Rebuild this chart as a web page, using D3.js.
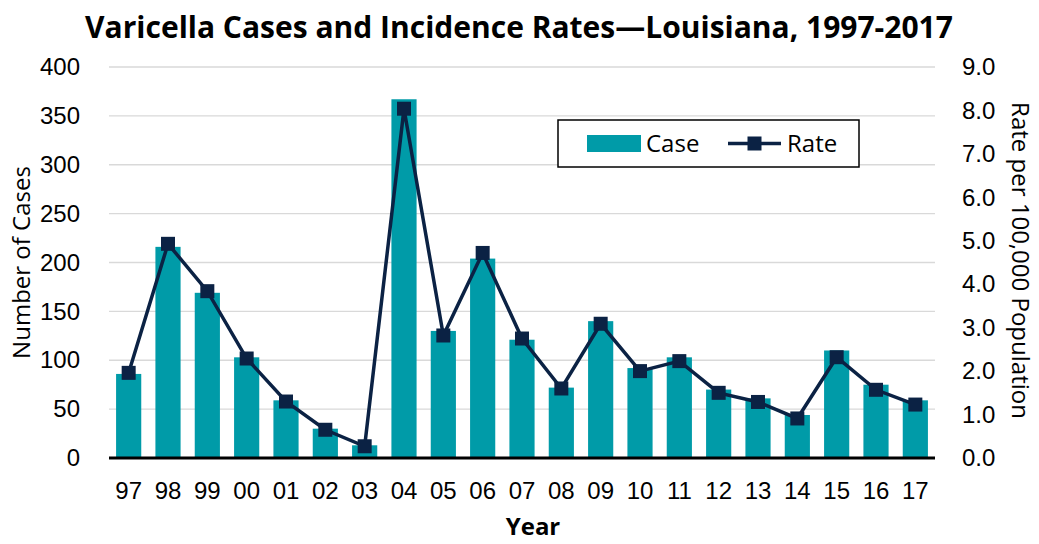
<!DOCTYPE html>
<html>
<head>
<meta charset="utf-8">
<script src="https://cdn.jsdelivr.net/npm/d3@7"></script>
<style>
  body { margin: 0; background: #fff; }
  svg { font-family: "Open Sans", "Noto Sans", sans-serif; }
</style>
</head>
<body>
<svg id="chart" width="1039" height="544"></svg>
<script>
// Data
var years = ["97","98","99","00","01","02","03","04","05","06","07","08","09","10","11","12","13","14","15","16","17"];
var cases = [86, 216, 169, 103, 59, 30, 13, 367, 130, 204, 121, 72, 140, 92, 103, 70, 61, 44, 110, 75, 59];
var rates = [1.96, 4.93, 3.84, 2.29, 1.30, 0.65, 0.27, 8.04, 2.82, 4.72, 2.75, 1.60, 3.09, 2.00, 2.23, 1.50, 1.29, 0.91, 2.32, 1.57, 1.23];
var caseTicks = [0, 50, 100, 150, 200, 250, 300, 350, 400];
var rateTicks = [0, 1, 2, 3, 4, 5, 6, 7, 8, 9];

var margin = {top: 67, right: 104, bottom: 86, left: 109},
    width = 1039 - margin.left - margin.right,
    height = 544 - margin.top - margin.bottom;

var svg = d3.select("#chart");
var g = svg.append("g")
    .attr("transform", "translate(" + margin.left + "," + margin.top + ")");

var x = d3.scaleBand().domain(years).range([0, width]).paddingInner(0.36).paddingOuter(0.18);
var y = d3.scaleLinear().domain([0, 400]).range([height, 0]);
var y2 = d3.scaleLinear().domain([0, 9]).range([height, 0]);

// gridlines
g.selectAll(".grid")
    .data(caseTicks.slice(1))
  .enter().append("line")
    .attr("x1", 0).attr("x2", width)
    .attr("y1", function(d) { return y(d); })
    .attr("y2", function(d) { return y(d); })
    .attr("stroke", "#d9d9d9")
    .attr("stroke-width", 1.3);

// bars
g.selectAll(".bar")
    .data(cases)
  .enter().append("rect")
    .attr("x", function(d, i) { return x(years[i]); })
    .attr("width", x.bandwidth())
    .attr("y", function(d) { return y(d); })
    .attr("height", function(d) { return height - y(d); })
    .attr("fill", "#009ba8");

// bottom axis line
g.append("line")
    .attr("x1", 0).attr("x2", width)
    .attr("y1", height).attr("y2", height)
    .attr("stroke", "#000")
    .attr("stroke-width", 3);

// rate line
var line = d3.line()
    .x(function(d, i) { return x(years[i]) + x.bandwidth() / 2; })
    .y(function(d) { return y2(d); });

g.append("path")
    .attr("d", line(rates))
    .attr("fill", "none")
    .attr("stroke", "#0b2244")
    .attr("stroke-width", 3.5);

g.selectAll(".marker")
    .data(rates)
  .enter().append("rect")
    .attr("x", function(d, i) { return x(years[i]) + x.bandwidth() / 2 - 7; })
    .attr("y", function(d) { return y2(d) - 7; })
    .attr("width", 14).attr("height", 14)
    .attr("fill", "#0b2244");

// axes
var yAxis = d3.axisLeft(y).tickValues(caseTicks).tickSize(0).tickPadding(29);
var gy = g.append("g").call(yAxis);
gy.select(".domain").remove();
gy.selectAll("text").attr("font-size", 24).attr("fill", "#000").attr("font-family", null);

var y2Axis = d3.axisRight(y2).tickValues(rateTicks).tickSize(0).tickPadding(27)
    .tickFormat(d3.format(".1f"));
var gy2 = g.append("g").attr("transform", "translate(" + width + ",0)").call(y2Axis);
gy2.select(".domain").remove();
gy2.selectAll("text").attr("font-size", 24).attr("fill", "#000").attr("font-family", null);

var xAxis = d3.axisBottom(x).tickSize(0).tickPadding(24);
var gx = g.append("g").attr("transform", "translate(0," + height + ")").call(xAxis);
gx.select(".domain").remove();
gx.selectAll("text").attr("font-size", 24).attr("fill", "#000").attr("font-family", null);

// titles
svg.append("text")
    .attr("x", 519).attr("y", 38)
    .attr("text-anchor", "middle")
    .attr("font-size", 30).attr("font-weight", "bold")
    .text("Varicella Cases and Incidence Rates\u2014Louisiana, 1997-2017");

svg.append("text")
    .attr("x", 533).attr("y", 535)
    .attr("text-anchor", "middle")
    .attr("font-size", 24).attr("font-weight", "bold")
    .text("Year");

svg.append("text")
    .attr("transform", "translate(30," + (margin.top + height / 2) + ") rotate(-90)")
    .attr("text-anchor", "middle")
    .attr("font-size", 24)
    .text("Number of Cases");

svg.append("text")
    .attr("transform", "translate(1012," + (margin.top + height / 2 - 2) + ") rotate(90)")
    .attr("text-anchor", "middle")
    .attr("font-size", 24)
    .text("Rate per 100,000 Population");

// legend
var lg = svg.append("g").attr("transform", "translate(558,120)");
lg.append("rect")
    .attr("width", 301).attr("height", 47)
    .attr("fill", "#fff").attr("stroke", "#000").attr("stroke-width", 1.5);
lg.append("rect")
    .attr("x", 29).attr("y", 15).attr("width", 54).attr("height", 17)
    .attr("fill", "#009ba8");
lg.append("text")
    .attr("x", 88).attr("y", 32)
    .attr("font-size", 24)
    .text("Case");
lg.append("line")
    .attr("x1", 170).attr("x2", 223).attr("y1", 23.5).attr("y2", 23.5)
    .attr("stroke", "#0b2244").attr("stroke-width", 3.5);
lg.append("rect")
    .attr("x", 189.5).attr("y", 16.5).attr("width", 14).attr("height", 14)
    .attr("fill", "#0b2244");
lg.append("text")
    .attr("x", 229).attr("y", 32)
    .attr("font-size", 24)
    .text("Rate");
</script>
</body>
</html>
